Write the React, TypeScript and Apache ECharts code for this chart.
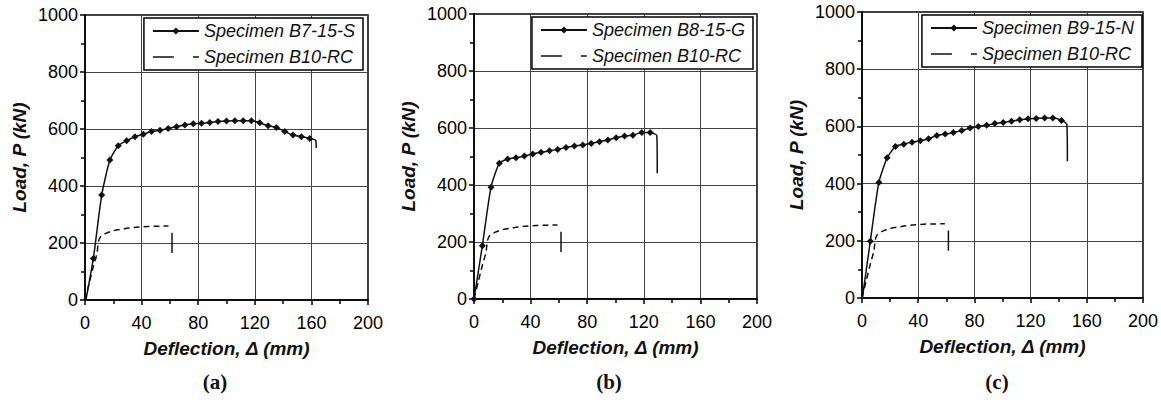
import React, { useEffect, useRef } from "react";
import * as echarts from "echarts";

// ---------- data ----------
const X_TICKS = { min: 0, max: 200, interval: 40 };
const Y_TICKS = { min: 0, max: 1000, interval: 200 };

// Specimen B10-RC (reference beam, same curve in all panels)
const RC_X = [0, 3, 6, 8.5, 9.5, 11, 14, 20, 28, 36, 44, 52, 59];
const RC_Y = [0, 60, 120, 165, 205, 222, 232, 243, 250, 255, 258, 259, 260];
const RC_DROP_X = [61.5, 61.5];
const RC_DROP_Y = [236, 165];

// Specimen B7-15-S (a)
const B7_X = [0, 5.9, 11.8, 17.6, 23.5, 29.4, 35.3, 41.2, 47, 53, 58.8, 64.7, 70.6, 76.5, 82.4, 88.2, 94, 100, 105.9, 111.8, 117.6, 123.5, 129.4, 135.3, 141.2, 147, 152.9, 158.8];
const B7_Y = [-17, 146, 368, 491, 541, 559, 573, 582, 591, 596, 602, 608, 614, 618, 620, 623, 626, 628, 629, 629, 629, 622, 611, 605, 591, 579, 573, 567];
const B7_TAIL_X = [163, 163.4];
const B7_TAIL_Y = [561, 533];

// Specimen B8-15-G (b)
const B8_X = [0, 5.9, 12, 17.9, 23.8, 29.7, 35.6, 41.5, 47.4, 53.3, 59.2, 65, 71, 76.9, 82.8, 88.7, 94.6, 100.5, 106.4, 112.3, 118.6, 124.5];
const B8_Y = [0, 187, 392, 476, 491, 496, 502, 509, 515, 520, 525, 532, 537, 540, 546, 552, 558, 566, 572, 575, 584, 584];
const B8_TAIL_X = [129.2, 129.5];
const B8_TAIL_Y = [573, 441];

// Specimen B9-15-N (c)
const B9_X = [0, 5.9, 12, 17.9, 23.8, 29.7, 35.6, 41.5, 47.4, 53.3, 59.2, 65, 71, 76.9, 82.8, 88.7, 94.6, 100.5, 106.4, 112.3, 118.2, 124, 130, 135.8, 142];
const B9_Y = [-9, 198, 404, 490, 530, 538, 545, 550, 557, 568, 573, 579, 586, 594, 600, 604, 610, 614, 618, 623, 627, 628, 629, 629, 621];
const B9_TAIL_X = [145.8, 146.2];
const B9_TAIL_Y = [606, 478];

const PANEL_NAMES = ["Specimen B7-15-S", "Specimen B8-15-G", "Specimen B9-15-N"];
const RC_NAME = "Specimen B10-RC";
const PANEL_LABELS = ["(a)", "(b)", "(c)"];
const X_NAME = "Deflection, \u0394 (mm)";
const Y_NAME = "Load, P (kN)";

// ---------- layout ----------
const W = 1161;
const H = 411;
const GRIDS = [
  { left: 85, top: 15, width: 283, height: 285 },
  { left: 474, top: 14, width: 283, height: 285 },
  { left: 862, top: 12, width: 283, height: 286 },
];
const LEGEND_RIGHT = [363, 753, 1142];
const LABEL_X = [215, 609, 997];
const FONT = "Liberation Sans";

const zip = (xs: number[], ys: number[]) => xs.map((x, i) => [x, ys[i]]);

export default function App() {
  const ref = useRef<HTMLDivElement>(null);
  useEffect(() => {
    document.body.style.margin = "0";
    if (!ref.current) return;
    const chart = echarts.init(ref.current, undefined, { renderer: "svg" });

    const specimens = [
      { x: B7_X, y: B7_Y, tx: B7_TAIL_X, ty: B7_TAIL_Y },
      { x: B8_X, y: B8_Y, tx: B8_TAIL_X, ty: B8_TAIL_Y },
      { x: B9_X, y: B9_Y, tx: B9_TAIL_X, ty: B9_TAIL_Y },
    ];

    const grid = GRIDS.map((g) => ({
      ...g,
      show: true,
      borderColor: "#000",
      borderWidth: 1.5,
      backgroundColor: "transparent",
    }));

    const nameStyle = { fontFamily: FONT, fontSize: 19, fontWeight: "bold", fontStyle: "italic", color: "#111" };
    const labelStyle = { fontFamily: FONT, fontSize: 18, color: "#000", formatter: (v: number) => String(v) };

    const xAxis = GRIDS.map((_, i) => ({
      type: "value",
      gridIndex: i,
      ...X_TICKS,
      name: X_NAME,
      nameLocation: "middle",
      nameGap: 39,
      nameTextStyle: nameStyle,
      axisLine: { show: true, lineStyle: { color: "#000", width: 1.5 } },
      axisTick: { show: true, length: 5, lineStyle: { color: "#000", width: 1.5 } },
      minorTick: { show: true, splitNumber: 2, length: 4, lineStyle: { color: "#000", width: 1.5 } },
      splitLine: { show: true, lineStyle: { color: "#444", width: 1 } },
      axisLabel: { ...labelStyle, margin: 14 },
    }));

    const yAxis = GRIDS.map((_, i) => ({
      type: "value",
      gridIndex: i,
      ...Y_TICKS,
      name: Y_NAME,
      nameLocation: "middle",
      nameGap: 56,
      nameRotate: 90,
      nameTextStyle: nameStyle,
      axisLine: { show: true, lineStyle: { color: "#000", width: 1.5 } },
      axisTick: { show: true, length: 5, lineStyle: { color: "#000", width: 1.5 } },
      minorTick: { show: true, splitNumber: 2, length: 4, lineStyle: { color: "#000", width: 1.5 } },
      splitLine: { show: true, lineStyle: { color: "#444", width: 1 } },
      axisLabel: { ...labelStyle, margin: 7 },
    }));

    const series: any[] = [];
    specimens.forEach((s, i) => {
      const marked = zip(s.x, s.y);
      const tail = zip(s.tx, s.ty).map((p) => ({ value: p, symbol: "none" }));
      series.push({
        type: "line",
        name: PANEL_NAMES[i],
        xAxisIndex: i,
        yAxisIndex: i,
        data: [...marked, ...tail],
        smooth: 0.2,
        symbol: "diamond",
        symbolSize: 7,
        showSymbol: true,
        itemStyle: { color: "#111" },
        lineStyle: { color: "#111", width: 1.5 },
        z: 3,
      });
      series.push({
        type: "line",
        name: RC_NAME,
        xAxisIndex: i,
        yAxisIndex: i,
        data: zip(RC_X, RC_Y),
        smooth: 0.3,
        symbol: "none",
        itemStyle: { color: "#111" },
        lineStyle: { color: "#111", width: 1.5, type: [6, 4] },
        z: 2,
      });
      series.push({
        type: "line",
        name: "B10-RC failure " + i,
        xAxisIndex: i,
        yAxisIndex: i,
        data: zip(RC_DROP_X, RC_DROP_Y),
        symbol: "none",
        lineStyle: { color: "#111", width: 1.5 },
        z: 2,
      });
    });

    const legend = GRIDS.map((_, i) => ({
      right: W - LEGEND_RIGHT[i],
      top: GRIDS[i].top + 3,
      orient: "vertical",
      backgroundColor: "#fff",
      borderColor: "#000",
      borderWidth: 1.5,
      borderRadius: 0,
      padding: [4, 8, 4, 8],
      itemGap: 8,
      itemWidth: 46,
      itemHeight: 9,
      selectedMode: false,
      textStyle: { fontFamily: FONT, fontSize: 18, fontStyle: "italic", color: "#111" },
      data: [
        { name: PANEL_NAMES[i] },
        { name: RC_NAME, itemStyle: { opacity: 0 }, lineStyle: { type: [21, 19, 6], width: 1.5, color: "#111" } },
      ],
    }));

    const graphic = PANEL_LABELS.map((t, i) => ({
      type: "text",
      x: LABEL_X[i],
      y: 382,
      style: {
        text: t,
        fontFamily: "Liberation Serif",
        fontSize: 21,
        fontWeight: "bold",
        fill: "#111",
        align: "center",
        verticalAlign: "middle",
      },
    }));

    chart.setOption({
      animation: false,
      backgroundColor: "#fff",
      grid,
      xAxis,
      yAxis,
      series,
      legend,
      graphic,
    });
    return () => chart.dispose();
  }, []);
  return <div ref={ref} style={{ width: W, height: H }} />;
}
